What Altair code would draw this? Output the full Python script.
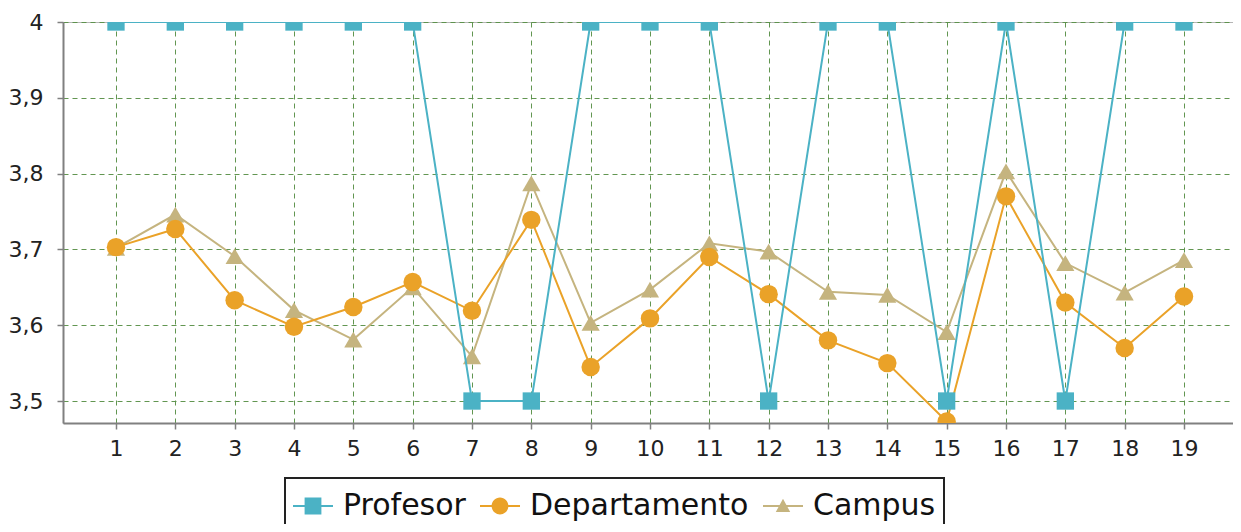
import altair as alt
import pandas as pd

# ---- data ----
periodos = list(range(1, 20))
series = ["Profesor", "Departamento", "Campus"]
colores = ["#4BB2C5", "#EAA228", "#C5B47F"]
formas = ["square", "circle", "triangle-up"]
tamanos = [300, 340, 330]

profesor = [4.0, 4.0, 4.0, 4.0, 4.0, 4.0, 3.5, 3.5, 4.0, 4.0, 4.0, 3.5, 4.0, 4.0, 3.5, 4.0, 3.5, 4.0, 4.0]
departamento = [3.703, 3.727, 3.633, 3.598, 3.624, 3.657, 3.619, 3.739, 3.545, 3.609,
                3.690, 3.641, 3.580, 3.550, 3.473, 3.770, 3.630, 3.570, 3.638]
campus = [3.702, 3.746, 3.691, 3.620, 3.581, 3.650, 3.559, 3.787, 3.603, 3.647,
          3.708, 3.697, 3.644, 3.640, 3.591, 3.803, 3.682, 3.643, 3.686]

y_ticks = [3.5, 3.6, 3.7, 3.8, 3.9, 4.0]

valores = {"Profesor": profesor, "Departamento": departamento, "Campus": campus}
rows = []
for s in series:
    for n, v in zip(periodos, valores[s]):
        rows.append({"n": n, "serie": s, "valor": v})
df = pd.DataFrame(rows)

FONT = "DejaVu Sans"

# legend symbols: a short line with the marker on it (custom symbol paths)
LINE = "M-1,-0.05H1V0.05H-1Z "
P_SQ = LINE + "M-0.42,-0.42H0.42V0.42H-0.42Z"
P_CI = LINE + "M-0.42,0A0.42,0.42 0 1,1 0.42,0A0.42,0.42 0 1,1 -0.42,0Z"
P_TR = LINE + "M0,-0.36L0.36,0.3H-0.36Z"

legend = alt.Legend(
    orient="none", legendX=222, legendY=456, direction="horizontal", title=None,
    labelFontSize=30, labelFont=FONT, labelColor="#111111", labelLimit=500,
    symbolSize=1600, symbolStrokeWidth=0, labelOffset=10, columnPadding=14,
    strokeColor="#222222", fillColor="white", padding=8,
)

axis_common = dict(
    labelFont=FONT, labelFontSize=22, labelColor="#222222",
    domainColor="#808080", domainWidth=2,
    tickColor="#808080", tickSize=6, tickWidth=1.5,
    grid=True, gridColor="#5a9048", gridDash=[5, 4], gridWidth=1, gridOpacity=0.95,
)

x_enc = alt.X("n:Q", title=None,
              scale=alt.Scale(domain=[0.107, 19.826], nice=False, zero=False),
              axis=alt.Axis(values=periodos, format="d", labelPadding=9, **axis_common))
y_enc = alt.Y("valor:Q", title=None,
              scale=alt.Scale(domain=[3.471, 4.0], nice=False, zero=False),
              axis=alt.Axis(values=y_ticks, labelPadding=14,
                            labelExpr="datum.value >= 3.999 ? '4' : replace(format(datum.value, '.1f'), '.', ',')",
                            **axis_common))

base = alt.Chart(df)

# invisible layer (no rows) carrying the legend
legend_layer = base.transform_filter("false").mark_point(filled=True, opacity=1).encode(
    x=x_enc, y=y_enc,
    color=alt.Color("serie:N", scale=alt.Scale(domain=series, range=colores), legend=legend),
    shape=alt.Shape("serie:N", scale=alt.Scale(domain=series, range=[P_SQ, P_CI, P_TR]), legend=legend),
)

layers = [legend_layer]
# draw order: Campus at the bottom, Profesor on top
for i in [2, 1, 0]:
    s = series[i]
    sub = base.transform_filter(alt.datum.serie == s)
    layers.append(sub.mark_line(strokeWidth=2, clip=True, color=colores[i]).encode(x=x_enc, y=y_enc))
    layers.append(sub.mark_point(filled=True, opacity=1, size=tamanos[i], shape=formas[i],
                                 color=colores[i], clip=True).encode(x=x_enc, y=y_enc))

chart = alt.layer(*layers).properties(
    width=1170, height=401,
    autosize=alt.AutoSizeParams(type="none"),
    padding={"left": 55, "top": 14, "right": 0, "bottom": 101},
).configure_view(
    stroke="#b5b5b5", strokeWidth=1
).configure_axis(
    labelFontSize=22, labelFont=FONT
).configure_legend(
    strokeWidth=2
)

chart.save("out.html", embed_options={"renderer": "svg", "actions": False})
